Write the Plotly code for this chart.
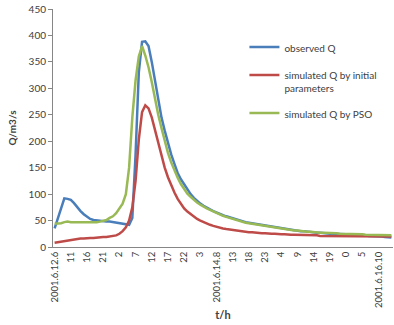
import plotly.graph_objects as go

# hourly categories, 2001.6.12 06:00 onward
hours = list(range(105))
tick_pos = list(range(0, 101, 5))
tick_text = ["2001.6.12.6", "11", "16", "21", "2", "7", "12", "17", "22", "3",
             "2001.6.14.8", "13", "18", "23", "4", "9", "14", "19", "0", "5",
             "2001.6.16.10"]

observed_q = [35, 55, 75, 92, 91, 89, 83, 75, 68, 62, 57, 53, 51, 50, 49, 49, 48, 48, 47, 46,
              44, 43, 42, 42, 55, 175, 330, 388, 389, 380, 350, 315, 275, 245, 220, 195, 175, 157, 140, 128,
              118, 108, 100, 93, 87, 82, 78, 74, 71, 68, 65, 62, 60, 58, 56, 54, 52, 50, 49, 47,
              46, 45, 43, 42, 41, 40, 39, 38, 37, 36, 35, 34, 33, 32, 32, 31, 30, 30, 29, 28,
              28, 27, 27, 26, 26, 25, 25, 25, 24, 24, 24, 23, 23, 23, 22, 22, 22, 21, 21, 21,
              20, 20, 19, 19, 18]

sim_initial = [8, 9, 10, 11, 12, 14, 15, 15, 16, 16, 17, 17, 17, 18, 18, 19, 19, 20, 21, 22,
               25, 30, 37, 50, 75, 125, 203, 255, 268, 262, 245, 222, 195, 172, 150, 132, 116, 103, 91, 81,
               73, 67, 62, 57, 53, 50, 47, 44, 42, 40, 38, 36, 35, 34, 33, 32, 31, 30, 30, 29,
               28, 28, 27, 27, 26, 26, 25, 25, 25, 24, 24, 24, 23, 23, 23, 23, 22, 22, 22, 22,
               22, 22, 21, 21, 21, 21, 21, 21, 21, 21, 21, 21, 21, 20, 20, 20, 20, 20, 20, 20,
               20, 20, 20, 20, 20]

sim_pso = [44, 44, 45, 47, 48, 47, 47, 46, 46, 46, 46, 46, 46, 47, 48, 49, 51, 55, 58, 64,
           72, 82, 100, 150, 245, 315, 360, 380, 362, 340, 312, 280, 250, 225, 200, 178, 160, 145, 131, 119,
           110, 101, 95, 89, 84, 80, 76, 73, 70, 67, 64, 61, 59, 57, 55, 53, 51, 49, 48, 46,
           45, 44, 42, 41, 40, 39, 38, 37, 36, 35, 34, 33, 33, 32, 31, 31, 30, 30, 29, 29,
           28, 28, 27, 27, 27, 26, 26, 26, 25, 25, 25, 25, 24, 24, 24, 24, 23, 23, 23, 23,
           23, 22, 22, 22, 22]

names = ["observed Q", "simulated Q by initial<br>parameters", "simulated Q by PSO"]
colors = ["#4A7EBB", "#BE4B48", "#98B954"]
series = [observed_q, sim_initial, sim_pso]

FONT = "Lato, 'Open Sans', sans-serif"

fig = go.Figure()
for i, (nm, col, ys) in enumerate(zip(names, colors, series)):
    fig.add_trace(go.Scatter(x=hours, y=ys, mode="lines", name=nm,
                             legendgroup=f"g{i}",
                             line=dict(color=col, width=2.5)))

fig.update_layout(
    width=394, height=325,
    margin=dict(l=53, r=1, t=9, b=78, autoexpand=False),
    paper_bgcolor="white", plot_bgcolor="white",
    font=dict(family=FONT, size=10, color="#404040"),
    showlegend=True,
    legend=dict(x=0.563, y=0.895, xanchor="left", yanchor="top",
                bgcolor="rgba(0,0,0,0)", font=dict(size=10, color="#404040"),
                tracegroupgap=9, traceorder="grouped", valign="top",
                itemwidth=30),
    xaxis=dict(range=[-0.5, 104.5], tickmode="array", tickvals=tick_pos, ticktext=tick_text,
               tickangle=-90, showgrid=False, zeroline=False, showline=True,
               linecolor="#868686", linewidth=1, ticks="", automargin=False,
               tickfont=dict(size=9.5, color="#404040"),
               title=dict(text="<b>t/h</b>", font=dict(size=11, color="#404040"), standoff=4)),
    yaxis=dict(range=[0, 450], dtick=50, showgrid=False, zeroline=False, showline=True,
               linecolor="#868686", linewidth=1, ticks="outside", ticklen=4, tickcolor="#868686",
               automargin=False,
               tickfont=dict(size=10, color="#404040"),
               title=dict(text="<b>Q/m3/s</b>", font=dict(size=10, color="#404040"), standoff=10)),
)

# remove the browser's default 8px body margin so the figure sits at the page origin
fig.write_html("out.html", config={"displayModeBar": False},
               post_script="document.body.style.margin='0px';")
